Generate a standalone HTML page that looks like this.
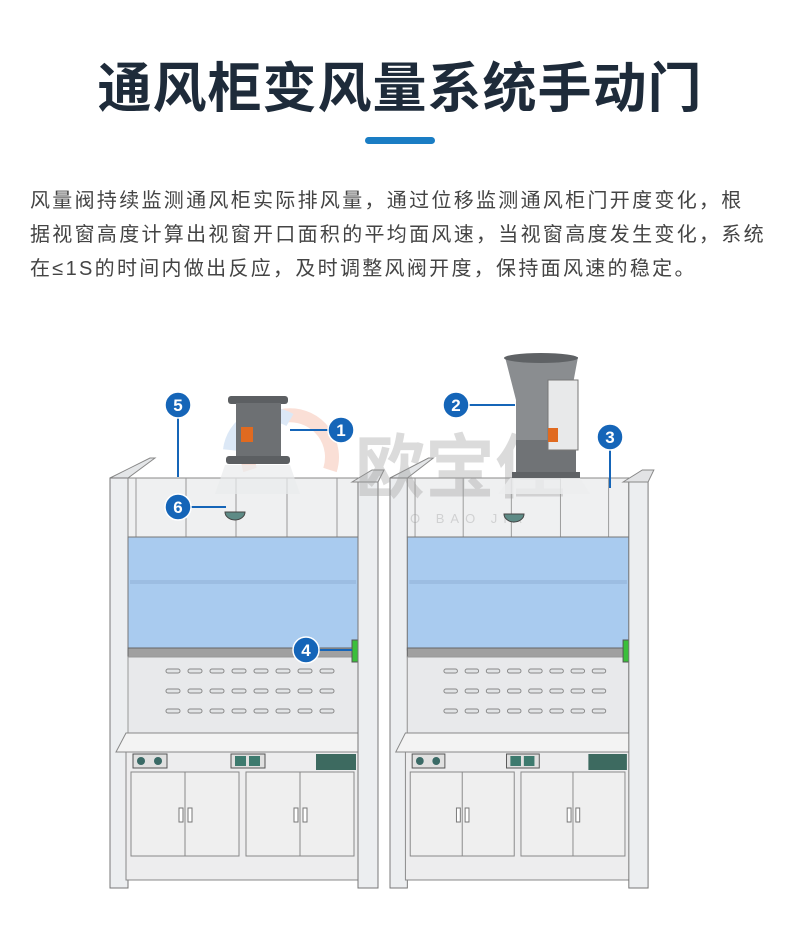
<!DOCTYPE html>
<html><head><meta charset="utf-8"><style>
html,body{margin:0;padding:0;background:#fff;width:800px;height:939px;overflow:hidden}
.t{position:absolute;left:0;width:800px;top:44px;text-align:center;font:bold 54px "Liberation Sans","Noto Sans CJK SC",sans-serif;color:#1e2b3a;letter-spacing:1px}
.bar{position:absolute;left:365px;top:137px;width:70px;height:7px;border-radius:4px;background:#1a7dc4}
.p{position:absolute;left:30px;top:184px;width:770px;font:20px/34px "Liberation Sans","Noto Sans CJK SC",sans-serif;color:#444;letter-spacing:2.3px;white-space:nowrap}
svg{position:absolute;left:0;top:0}
</style></head><body>
<div class="t">通风柜变风量系统手动门</div>
<div class="bar"></div>
<div class="p">风量阀持续监测通风柜实际排风量，通过位移监测通风柜门开度变化，根<br>据视窗高度计算出视窗开口面积的平均面风速，当视窗高度发生变化，系统<br>在≤1S的时间内做出反应，及时调整风阀开度，保持面风速的稳定。</div>
<svg width="800" height="939" viewBox="0 0 800 939">
<defs>
<g id="cab">
 <polygon points="110,478 150,458 155,458 128,478" fill="#e4e6e8" stroke="#888" stroke-width="1"/>
 <rect x="110" y="478" width="18" height="410" fill="#eceef0" stroke="#777"/>
 <rect x="128" y="478" width="230" height="59" fill="#eff0f1" stroke="#888"/>
 <g stroke="#999" stroke-width="1"><line x1="136" y1="478" x2="136" y2="537"/><line x1="186" y1="478" x2="186" y2="537"/><line x1="236" y1="478" x2="236" y2="537"/><line x1="287" y1="478" x2="287" y2="537"/><line x1="337" y1="478" x2="337" y2="537"/></g>
 <rect x="128" y="537" width="230" height="113" fill="#a9cbef" stroke="#777"/>
 <rect x="130" y="580" width="226" height="4" fill="#9cbde2"/>
 <rect x="128" y="648" width="230" height="9" fill="#a0a0a0" stroke="#666"/>
 <rect x="128" y="657" width="230" height="78" fill="#e8e9eb" stroke="#999"/>
 <g fill="#e2e4e6" stroke="#888" stroke-width="1">
  <rect x="166" y="669" width="14" height="4" rx="2"/><rect x="188" y="669" width="14" height="4" rx="2"/><rect x="210" y="669" width="14" height="4" rx="2"/><rect x="232" y="669" width="14" height="4" rx="2"/><rect x="254" y="669" width="14" height="4" rx="2"/><rect x="276" y="669" width="14" height="4" rx="2"/><rect x="298" y="669" width="14" height="4" rx="2"/><rect x="320" y="669" width="14" height="4" rx="2"/>
  <rect x="166" y="689" width="14" height="4" rx="2"/><rect x="188" y="689" width="14" height="4" rx="2"/><rect x="210" y="689" width="14" height="4" rx="2"/><rect x="232" y="689" width="14" height="4" rx="2"/><rect x="254" y="689" width="14" height="4" rx="2"/><rect x="276" y="689" width="14" height="4" rx="2"/><rect x="298" y="689" width="14" height="4" rx="2"/><rect x="320" y="689" width="14" height="4" rx="2"/>
  <rect x="166" y="709" width="14" height="4" rx="2"/><rect x="188" y="709" width="14" height="4" rx="2"/><rect x="210" y="709" width="14" height="4" rx="2"/><rect x="232" y="709" width="14" height="4" rx="2"/><rect x="254" y="709" width="14" height="4" rx="2"/><rect x="276" y="709" width="14" height="4" rx="2"/><rect x="298" y="709" width="14" height="4" rx="2"/><rect x="320" y="709" width="14" height="4" rx="2"/>
 </g>
 <rect x="352" y="640" width="7" height="22" fill="#3bbf3b" stroke="#555"/>
 <polygon points="126,733 360,733 368,752 116,752" fill="#f3f3f3" stroke="#888"/>
 <rect x="126" y="752" width="234" height="128" fill="#ededee" stroke="#888"/>
 <rect x="133" y="754" width="34" height="14" fill="#e0e0e0" stroke="#555"/>
 <circle cx="141" cy="761" r="4" fill="#3a6a66"/><circle cx="158" cy="761" r="4" fill="#3a6a66"/>
 <rect x="231" y="754" width="34" height="14" fill="#e0e0e0" stroke="#555"/>
 <rect x="235" y="756" width="11" height="10" fill="#3d7a6e"/><rect x="249" y="756" width="11" height="10" fill="#3d7a6e"/>
 <rect x="316" y="754" width="40" height="16" fill="#3d6a60"/>
 <rect x="131" y="772" width="108" height="84" fill="#efefef" stroke="#888"/><line x1="185" y1="772" x2="185" y2="856" stroke="#888"/>
 <rect x="246" y="772" width="108" height="84" fill="#efefef" stroke="#888"/><line x1="300" y1="772" x2="300" y2="856" stroke="#888"/>
 <rect x="179" y="808" width="4" height="14" fill="#fff" stroke="#777"/><rect x="188" y="808" width="4" height="14" fill="#fff" stroke="#777"/>
 <rect x="294" y="808" width="4" height="14" fill="#fff" stroke="#777"/><rect x="303" y="808" width="4" height="14" fill="#fff" stroke="#777"/>
 <rect x="358" y="478" width="20" height="410" fill="#eceef0" stroke="#777"/>
 <polygon points="352,482 372,470 384,470 378,482" fill="#e2e3e5" stroke="#888"/>
</g>
</defs>
<use href="#cab"/>
<g transform="translate(390,0) scale(0.963,1) translate(-110,0)"><use href="#cab"/></g>
<!-- watermark -->
<g opacity="0.35">
 <path d="M250,470 A42,42 0 1,1 330,470" fill="none" stroke="#f1a58c" stroke-width="14"/>
 <path d="M230,450 A40,40 0 0,1 290,420" fill="none" stroke="#9ec0e6" stroke-width="14"/>
 <text x="355" y="492" font-family="Liberation Sans,Noto Sans CJK SC,sans-serif" font-size="70" font-weight="bold" fill="#9a9a9a">欧宝佳</text>
 <text x="410" y="523" font-family="Liberation Sans,sans-serif" font-size="13" fill="#999" letter-spacing="6">O BAO JIA</text>
</g>
<!-- duct 1 -->
<polygon points="225,465 290,465 300,494 215,494" fill="#e9ebed" opacity="0.7"/>
<rect x="228" y="396" width="60" height="8" rx="3" fill="#5c5f62"/>
<rect x="236" y="403" width="45" height="55" fill="#6d7073"/>
<rect x="226" y="456" width="64" height="8" rx="3" fill="#5c5f62"/>
<rect x="241" y="427" width="12" height="15" fill="#e06a20"/>
<!-- duct 2 -->
<polygon points="505,357 578,357 570,400 548,410 548,440 516,440 516,400" fill="#8a8d90"/>
<ellipse cx="541" cy="358" rx="37" ry="5" fill="#5f6265"/>
<rect x="516" y="440" width="60" height="35" fill="#707376"/>
<rect x="512" y="472" width="68" height="6" fill="#5f6265"/>
<rect x="548" y="380" width="30" height="70" fill="#e8e9ea" stroke="#777"/>
<rect x="548" y="428" width="10" height="14" fill="#e06a20"/>
<polygon points="510,478 580,478 590,494 498,494" fill="#eceeef" opacity="0.8"/>
<!-- dome sensors -->
<path d="M225,512 a10,8 0 0,0 20,0 z" fill="#5e8b86" stroke="#444"/>
<path d="M504,514 a10,8 0 0,0 20,0 z" fill="#5e8b86" stroke="#444"/>
<!-- leaders -->
<g stroke="#1565b8" stroke-width="2" fill="none">
 <line x1="178" y1="405" x2="178" y2="477"/>
 <line x1="290" y1="430" x2="328" y2="430"/>
 <line x1="190" y1="507" x2="226" y2="507"/>
 <line x1="318" y1="650" x2="352" y2="650"/>
 <line x1="468" y1="405" x2="515" y2="405"/>
 <line x1="610" y1="437" x2="610" y2="488"/>
</g>
<g fill="#1565b8" stroke="#fff" stroke-width="1.5">
 <circle cx="178" cy="405" r="13"/><circle cx="341" cy="430" r="13"/><circle cx="178" cy="507" r="13"/>
 <circle cx="306" cy="650" r="13"/><circle cx="456" cy="405" r="13"/><circle cx="610" cy="437" r="13"/>
</g>
<g fill="#fff" font-family="Liberation Sans,sans-serif" font-size="17" font-weight="bold" text-anchor="middle">
 <text x="178" y="411">5</text><text x="341" y="436">1</text><text x="178" y="513">6</text>
 <text x="306" y="656">4</text><text x="456" y="411">2</text><text x="610" y="443">3</text>
</g>
</svg>
</body></html>
